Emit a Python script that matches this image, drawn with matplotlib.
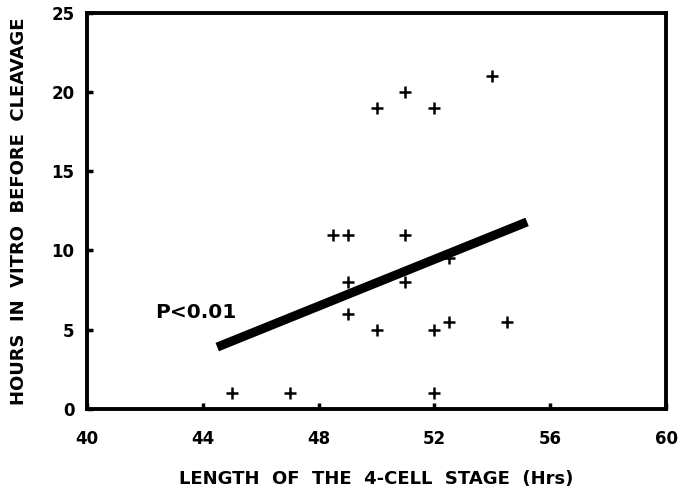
import matplotlib
matplotlib.use("Agg")
import matplotlib.pyplot as plt

# Data
hours_4cell = [54.0, 51.0, 50.0, 52.0, 48.5, 49.0, 51.0, 52.5, 49.0, 51.0,
               49.0, 50.0, 52.0, 52.5, 54.5, 45.0, 47.0, 52.0]
hours_in_vitro = [21, 20, 19, 19, 11, 11, 11, 9.5, 8, 8,
                  6, 5, 5, 5.5, 5.5, 1, 1, 1]
fit_x = [44.5, 55.2]
fit_y = [3.9, 11.8]
x_ticks = [40, 44, 48, 52, 56, 60]
y_ticks = [0, 5, 10, 15, 20, 25]

plt.rcParams['font.family'] = ['DejaVu Sans']
plt.rcParams['font.weight'] = 'bold'

fig = plt.figure(figsize=(6.79, 4.92), dpi=100)
ax = fig.add_axes([0.128, 0.169, 0.853, 0.805])

ax.plot(hours_4cell, hours_in_vitro, linestyle='none', marker='+',
        markersize=8, markeredgewidth=1.8, color='black')
ax.plot(fit_x, fit_y, color='black', linewidth=6.5, solid_capstyle='butt')
ax.text(42.35, 6.06, 'P<0.01', fontsize=14.5, fontweight='bold',
        ha='left', va='center')

ax.set_xlim(40, 60)
ax.set_ylim(0, 25)
ax.set_xticks(x_ticks)
ax.set_yticks(y_ticks)
ax.tick_params(direction='in', length=4, width=2.5, labelsize=12, color='black')
ax.tick_params(axis='x', pad=15)
ax.tick_params(axis='y', pad=9)
for lbl in ax.get_xticklabels() + ax.get_yticklabels():
    lbl.set_fontweight('bold')
for s in ax.spines.values():
    s.set_linewidth(2.8)

ax.set_xlabel('LENGTH  OF  THE  4-CELL  STAGE  (Hrs)', fontsize=13,
              fontweight='bold', labelpad=16)
ax.set_ylabel('HOURS  IN  VITRO  BEFORE  CLEAVAGE', fontsize=13,
              fontweight='bold', labelpad=17)

fig.savefig('out.png', dpi=100)
